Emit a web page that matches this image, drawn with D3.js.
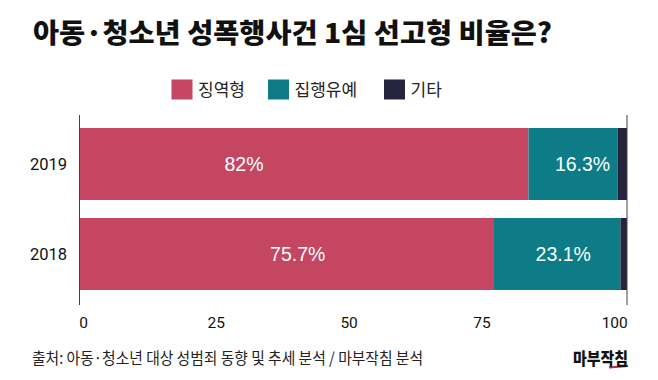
<!DOCTYPE html>
<html><head><meta charset="utf-8">
<script src="https://cdn.jsdelivr.net/npm/d3@7"></script>
<style>
html,body{margin:0;padding:0;background:#fff;}
svg{display:block;}
</style></head>
<body>
<svg id="chart" width="658" height="380"></svg>
<script>
const years = ["2019", "2018"];
const seriesNames = ["징역형", "집행유예", "기타"];
const prison = [82, 75.7];
const probation = [16.3, 23.1];
const other = [1.7, 1.2];
const valueLabels = [["82%", "16.3%", null], ["75.7%", "23.1%", null]];
const tickValues = [0, 25, 50, 75, 100];
const titleText = "아동·청소년 성폭행사건 1심 선고형 비율은?";
const sourceText = "출처: 아동·청소년 대상 성범죄 동향 및 추세 분석 / 마부작침 분석";
const logoText = "마부작침";

const colors = ["#c44661", "#0d7c86", "#25233d"];
const labelShift = [[-60, 9.5], [11, 6]]; // label offsets within segments (px)

const svg = d3.select("#chart");
const KR = "'Noto Sans CJK KR','Noto Sans',sans-serif";

const x = d3.scaleLinear().domain([0, 100]).range([79.5, 627]);
const y = d3.scaleBand().domain(years).range([119, 299]).paddingInner(0.2).paddingOuter(0.1);

// title
svg.append("text").attr("x", 33).attr("y", 43)
  .attr("font-family", KR).attr("font-weight", 900).attr("font-size", 27)
  .attr("fill", "#111").attr("textLength", 519).attr("lengthAdjust", "spacingAndGlyphs")
  .text(titleText);

// legend
const legendX = [171.5, 268, 384];
const lg = svg.append("g");
seriesNames.forEach((n, i) => {
  lg.append("rect").attr("x", legendX[i]).attr("y", 79.5).attr("width", 21).attr("height", 20).attr("fill", colors[i]);
  lg.append("text").attr("x", legendX[i] + 26.5).attr("y", 96)
    .attr("font-family", KR).attr("font-size", 17).attr("fill", "#222").text(n);
});

// stacked data
const rows = years.map((yr, i) => ({year: yr, "징역형": prison[i], "집행유예": probation[i], "기타": other[i]}));
const stack = d3.stack().keys(seriesNames)(rows);

stack.forEach((layer, li) => {
  svg.append("g").selectAll("rect").data(layer).join("rect")
    .attr("x", d => x(d[0]))
    .attr("width", d => x(d[1]) - x(d[0]))
    .attr("y", d => y(d.data.year))
    .attr("height", y.bandwidth())
    .attr("fill", colors[li]);
});

// value labels
stack.forEach((layer, li) => {
  layer.forEach((d, ri) => {
    const lab = valueLabels[ri][li];
    if (!lab) return;
    svg.append("text")
      .attr("x", (x(d[0]) + x(d[1])) / 2 + labelShift[ri][li])
      .attr("y", y(d.data.year) + y.bandwidth() / 2 + 7)
      .attr("text-anchor", "middle")
      .attr("font-family", "'Liberation Sans',Arial,sans-serif")
      .attr("font-size", 19.5).attr("fill", "#fff").text(lab);
  });
});

// axis lines (left and right)
[0, 100].forEach(v => {
  svg.append("line").attr("x1", x(v)).attr("x2", x(v)).attr("y1", 115).attr("y2", 305)
    .attr("stroke", "#444").attr("stroke-width", 1);
});

// y labels
const yAxis = svg.append("g");
years.forEach(yr => {
  yAxis.append("text").attr("x", 67).attr("y", y(yr) + y.bandwidth() / 2 + 5.5)
    .attr("text-anchor", "end").attr("font-family", "Roboto,sans-serif")
    .attr("font-size", 16.5).attr("fill", "#111").text(yr);
});

// x tick labels
const xAxis = svg.append("g");
tickValues.forEach(v => {
  xAxis.append("text").attr("x", x(v) + 4 - 16.3 * v / 100).attr("y", 327.5)
    .attr("text-anchor", "middle").attr("font-family", "Roboto,sans-serif")
    .attr("font-size", 15.5).attr("fill", "#111").text(String(v));
});

// source
svg.append("text").attr("x", 32).attr("y", 364)
  .attr("font-family", KR).attr("font-size", 16).attr("fill", "#222")
  .attr("textLength", 391).attr("lengthAdjust", "spacingAndGlyphs").text(sourceText);

// logo
svg.append("line").attr("x1", 609).attr("x2", 628).attr("y1", 367.5).attr("y2", 366)
  .attr("stroke", "#d8203a").attr("stroke-width", 2);
svg.append("text").attr("x", 573).attr("y", 365)
  .attr("font-family", KR).attr("font-weight", 900).attr("font-size", 17).attr("fill", "#111")
  .attr("textLength", 55).attr("lengthAdjust", "spacingAndGlyphs").text(logoText);
</script>
</body></html>
